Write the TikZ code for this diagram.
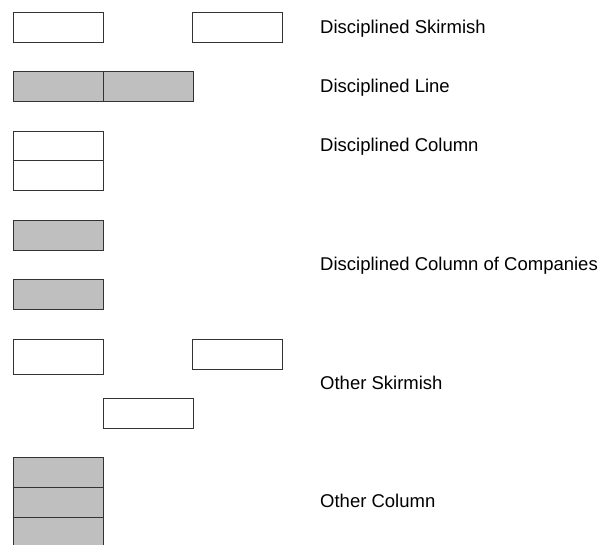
\documentclass[tikz,border=0pt]{standalone}
\usepackage{fontspec}
\setmainfont{Liberation Sans}

\begin{document}
\begin{tikzpicture}[x=1pt,y=-1pt,
  coy/.style={draw=black!80, line width=1pt, fill=white, inner sep=0pt, outer sep=0pt,
    minimum width=90pt, minimum height=30pt, anchor=north west},
  gcoy/.style={coy, fill=black!25},
  formtext/.style={anchor=base west, inner sep=0pt, font=\fontsize{18.5}{22}\selectfont}]

  \useasboundingbox (0,0) rectangle (605,544);
  \clip (0,0) rectangle (605,544);

  % disciplined skirmish
  \node[coy] (ds1) at (13,12) {};
  \node[coy] (ds2) at (192,12) {};
  \node[formtext] (dstxt) at (320,33) {Disciplined Skirmish};

  % disciplined line
  \node[gcoy] (dl1) at (13,71) {};
  \node[gcoy] (dl2) at (103,71) {};
  \node[formtext] (dltxt) at (320,92) {Disciplined Line};

  % disciplined column
  \node[coy] (dc1) at (13,131) {};
  \node[coy] (dc2) at (13,160.5) {};
  \node[formtext] (dctxt) at (320,151.5) {Disciplined Column};

  % disciplined column of companies
  \node[gcoy] (dcc1) at (13,220) {};
  \node[gcoy] (dcc2) at (13,279) {};
  \node[formtext] (dcctxt) at (320,270) {Disciplined Column of Companies};

  % other skirmish
  \node[coy, minimum height=35pt] (os1) at (13,339) {};
  \node[coy] (os2) at (192,339) {};
  \node[coy] (os3) at (103,398) {};
  \node[formtext] (ostxt) at (320,389) {Other Skirmish};

  % other column
  \node[gcoy] (oc1) at (13,457) {};
  \node[gcoy] (oc2) at (13,487) {};
  \node[gcoy] (oc3) at (13,517) {};
  \node[formtext] (octxt) at (320,507.5) {Other Column};

\end{tikzpicture}
\end{document}
